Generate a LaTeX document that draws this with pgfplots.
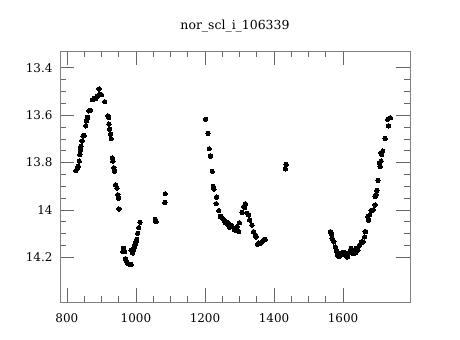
\documentclass[border=0pt]{standalone}
\usepackage{fontspec}
\setmainfont{DejaVu Serif}
\usepackage{pgfplots}
\pgfplotsset{compat=1.18}
\begin{document}
\begin{tikzpicture}
\useasboundingbox (0,0) rectangle (460bp,340bp);
\begin{axis}[
  at={(60bp,38bp)}, anchor=south west,
  scale only axis, width=350bp, height=251bp,
  xmin=780, xmax=1794, ymin=13.329, ymax=14.389,
  y dir=reverse,
  axis line style={black!50, line width=0.8pt},
  every tick/.style={black!60, line width=0.7pt},
  tick align=inside,
  major tick length=14bp, minor tick length=6bp,
  xtick={800,1000,1200,1400,1600},
  ytick={13.4,13.6,13.8,14,14.2},
  minor x tick num=3, minor y tick num=3,
  /pgf/number format/assume math mode=true,
  /pgf/number format/1000 sep={},
  ticklabel style={font=\fontsize{12}{14}\selectfont},
  xticklabel style={yshift=-8bp},
  yticklabel style={xshift=-4bp},
  title={nor\_scl\_i\_106339},
  title style={font=\fontsize{12.5}{14}\selectfont, anchor=base, at={(0.5,1)}, yshift=16bp},
]
\addplot[only marks, mark=*, mark size=2.2pt, black, mark options={line width=0pt}] coordinates {
(826,13.834) (830,13.825) (833,13.816) (835.7,13.794) (837.4,13.766) (839.4,13.745)
(841,13.731) (844,13.709) (847,13.688) (850,13.685) (854.7,13.645) (856.7,13.624)
(859.6,13.610) (863.3,13.582) (868,13.579) (874,13.535) (878.6,13.529) (883.5,13.529)
(888.4,13.520) (893,13.489) (895,13.511) (900,13.514) (909.4,13.543) (919,13.603)
(921,13.610) (921.7,13.638) (923.7,13.660) (926.6,13.680) (928.6,13.699) (931.5,13.780)
(933,13.794) (936,13.822) (938,13.837) (941,13.894) (944.8,13.908) (947.6,13.936)
(949.7,13.950) (950.5,13.996)
(964,14.163) (962,14.177) (967,14.177) (969.8,14.206) (973.5,14.220) (976.5,14.227)
(981,14.230) (986,14.230) (986,14.170) (990.8,14.182) (993,14.167) (995.7,14.156)
(997.7,14.145) (1000,14.135) (1002,14.125) (1005,14.099) (1008,14.075) (1012,14.052)
(1056,14.040) (1058,14.050) (1084,13.969) (1085,13.932)
(1202,13.617) (1208.7,13.677) (1212.4,13.742) (1216,13.773) (1221,13.837) (1224,13.901)
(1226,13.912) (1233.7,13.946) (1232.5,13.974) (1240,14.003) (1245,14.028) (1250,14.033)
(1254.7,14.043) (1259.6,14.054) (1262,14.050) (1264,14.060) (1267,14.055) (1269,14.068)
(1271,14.074) (1274,14.064) (1286,14.085) (1293,14.071) (1298,14.092) (1299.8,14.054)
(1307.4,14.011) (1312,13.986) (1315,13.990) (1317,13.974) (1321.8,14.014) (1326.7,14.021)
(1329.6,14.043) (1336,14.064) (1341,14.092) (1346,14.106) (1347.7,14.114) (1352.6,14.145)
(1355.5,14.139) (1360,14.142) (1365,14.135) (1370,14.128) (1374.7,14.125)
(1252,14.038) (1257,14.048) (1266,14.062) (1277,14.070) (1290,14.080)
(1433,13.827) (1435,13.808)
(1563.6,14.092) (1566.5,14.102) (1568.5,14.120) (1573.4,14.135) (1578,14.156) (1581,14.173)
(1584,14.191) (1587.6,14.196) (1592,14.194) (1597,14.182) (1603,14.180) (1606.7,14.191)
(1612.5,14.199) (1616.5,14.182) (1622,14.167) (1629,14.184) (1635.5,14.182) (1638,14.163)
(1643,14.170) (1648,14.149) (1652.7,14.135) (1657.6,14.135) (1662.5,14.114) (1664,14.092)
(1674,14.043) (1677,14.021) (1681.5,14.003) (1687,14.000) (1693,13.979) (1696,13.936)
(1698,13.918) (1701,13.875) (1707.5,13.816) (1710.4,13.794) (1712,13.766) (1715,13.752)
(1722,13.698) (1731.6,13.645) (1729.6,13.617) (1737,13.611)
(1600,14.180) (1614.5,14.184) (1595,14.184) (1609.5,14.195) (1624,14.163) (1633,14.175)
(1665.5,14.092) (1672,14.028) (1693,13.943) (1705.6,13.801) (1710,13.759)
};
\end{axis}
\end{tikzpicture}
\end{document}
